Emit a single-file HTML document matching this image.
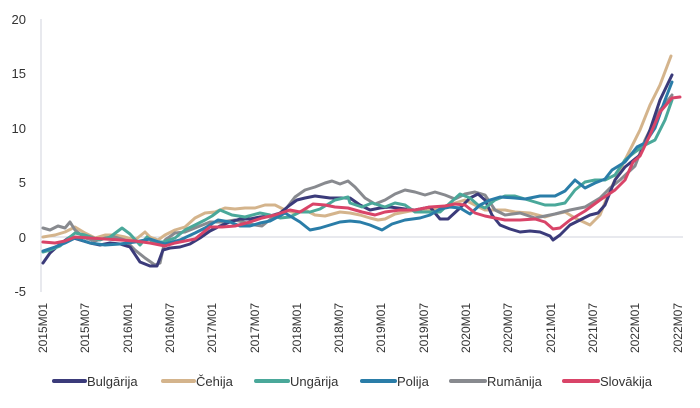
<!DOCTYPE html>
<html><head><meta charset="utf-8"><style>
html,body{margin:0;padding:0;background:#fff;}
svg{display:block;font-family:"Liberation Sans",sans-serif;}
</style></head><body>
<svg width="700" height="408" viewBox="0 0 700 408">
<g fill="#333" font-size="13" text-anchor="end">
<text x="26" y="24">20</text><text x="26" y="78">15</text><text x="26" y="133">10</text>
<text x="26" y="187">5</text><text x="26" y="242">0</text><text x="26" y="296">-5</text>
</g>
<line x1="41" y1="19" x2="41" y2="292" stroke="#d0d3dc" stroke-width="1"/>
<line x1="41" y1="237" x2="683" y2="237" stroke="#d0d3dc" stroke-width="1"/>
<g fill="#333" font-size="12" text-anchor="end">
<text transform="translate(47,303) rotate(-90)">2015M01</text>
<text transform="translate(89,303) rotate(-90)">2015M07</text>
<text transform="translate(132,303) rotate(-90)">2016M01</text>
<text transform="translate(174,303) rotate(-90)">2016M07</text>
<text transform="translate(216,303) rotate(-90)">2017M01</text>
<text transform="translate(259,303) rotate(-90)">2017M07</text>
<text transform="translate(301,303) rotate(-90)">2018M01</text>
<text transform="translate(343,303) rotate(-90)">2018M07</text>
<text transform="translate(385,303) rotate(-90)">2019M01</text>
<text transform="translate(428,303) rotate(-90)">2019M07</text>
<text transform="translate(470,303) rotate(-90)">2020M01</text>
<text transform="translate(512,303) rotate(-90)">2020M07</text>
<text transform="translate(555,303) rotate(-90)">2021M01</text>
<text transform="translate(597,303) rotate(-90)">2021M07</text>
<text transform="translate(639,303) rotate(-90)">2022M01</text>
<text transform="translate(682,303) rotate(-90)">2022M07</text>
</g>
<g fill="none" stroke-width="3" stroke-linejoin="round" stroke-linecap="round">
<polyline stroke="#d4b48c" points="43,237 55,235 65,232 75,227 85,233 95,238 105,235 115,235 125,237 135,240 145,232 150,237 158,240 165,235 175,230 185,227 195,218 205,213 215,212 225,208 235,209 245,208 255,208 265,205 275,205 285,210 295,213 305,210 315,215 325,216 340,212 350,213 360,215 370,218 378,220 385,219 395,214 410,211 420,210 430,210 445,206 455,203 465,200 475,205 485,210 495,210 505,210 515,212 530,213 545,217 555,214 565,212 575,218 590,225 600,215 610,190 620,170 630,150 640,130 650,105 660,85 671,56"/>
<polyline stroke="#888a8f" points="43,228 50,230 58,226 65,228 70,222 75,230 85,238 95,241 105,238 115,237 125,240 135,250 145,258 155,265 160,263 165,240 175,233 185,232 195,228 210,222 222,222 235,220 255,225 262,226 272,218 285,210 295,197 305,190 315,187 325,183 332,181 340,184 348,181 355,187 365,198 375,204 385,200 395,194 405,190 415,192 425,195 435,192 445,195 455,199 465,194 475,192 485,195 495,210 505,215 520,213 535,218 545,216 555,214 570,210 585,207 600,198 610,188 620,180 635,166 645,140 660,110 672,95"/>
<polyline stroke="#3b3b7a" points="43,263 50,253 60,244 70,237 80,240 90,243 100,245 110,243 120,244 130,247 140,262 150,266 157,266 163,250 170,248 180,247 190,244 200,238 210,231 220,226 230,222 240,219 250,219 260,217 270,216 280,213 290,205 297,200 305,198 315,196 330,198 350,198 360,205 370,210 380,208 390,207 405,209 415,210 430,207 440,219 448,219 460,208 470,198 478,194 485,200 492,215 500,225 510,229 520,232 530,231 540,232 550,236 553,240 560,235 570,225 580,220 590,215 598,213 605,205 615,180 625,167 640,155 650,130 660,100 672,75"/>
<polyline stroke="#4aa89a" points="43,252 50,250 60,246 70,237 75,233 85,235 100,240 110,237 122,228 130,234 140,245 147,237 153,242 163,242 175,238 185,230 195,225 205,220 212,216 220,210 232,215 245,217 260,213 270,215 280,218 290,217 300,212 310,212 320,209 335,200 348,197 350,203 362,207 372,203 385,207 395,203 405,205 415,212 425,212 440,212 450,203 460,194 470,198 478,205 485,208 495,200 505,196 515,196 525,199 535,202 545,205 555,205 565,203 575,190 585,182 595,180 605,180 615,175 625,160 635,152 645,145 655,140 665,120 672,100"/>
<polyline stroke="#2a7da8" points="43,251 55,247 65,243 75,238 90,243 105,245 120,244 135,242 150,239 165,244 180,240 195,233 205,228 218,220 230,222 240,226 250,226 260,223 270,221 285,213 300,222 310,230 320,228 330,225 340,222 350,221 360,222 370,225 382,230 392,224 405,220 420,218 430,215 440,209 450,207 460,208 470,214 480,205 490,200 500,197 515,198 525,199 540,196 555,196 565,191 575,180 585,188 595,183 605,179 612,170 625,162 637,147 645,143 655,128 665,100 672,82"/>
<polyline stroke="#d94468" points="43,242 55,243 65,241 75,237 90,238 105,239 120,240 135,241 150,243 165,246 175,243 185,241 195,239 210,227 222,227 235,226 250,222 262,218 275,215 290,210 300,212 313,204 325,205 335,207 348,208 362,212 375,215 385,212 400,210 415,210 430,207 445,206 455,204 465,205 475,213 485,216 495,218 505,220 520,220 535,219 545,222 553,229 560,228 570,220 585,211 600,200 615,190 625,180 633,162 640,156 650,135 660,112 672,98 680,97"/>
</g>
<g stroke-width="4" stroke-linecap="round">
<line x1="54" y1="381" x2="85" y2="381" stroke="#3b3b7a"/>
<line x1="163" y1="381" x2="194" y2="381" stroke="#d4b48c"/>
<line x1="256" y1="381" x2="288" y2="381" stroke="#4aa89a"/>
<line x1="362" y1="381" x2="395" y2="381" stroke="#2a7da8"/>
<line x1="451" y1="381" x2="485" y2="381" stroke="#888a8f"/>
<line x1="564" y1="381" x2="598" y2="381" stroke="#d94468"/>
</g>
<g fill="#333" font-size="13">
<text x="87" y="386">Bulgārija</text>
<text x="196" y="386">Čehija</text>
<text x="290" y="386">Ungārija</text>
<text x="397" y="386">Polija</text>
<text x="487" y="386">Rumānija</text>
<text x="600" y="386">Slovākija</text>
</g>
</svg>
</body></html>
